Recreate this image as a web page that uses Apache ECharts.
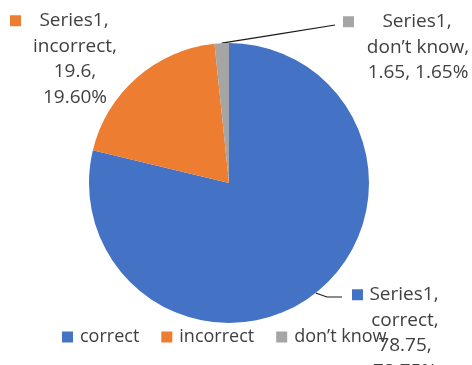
<!DOCTYPE html>
<html>
<head>
<meta charset="utf-8">
<script src="https://cdn.jsdelivr.net/npm/echarts@6/dist/echarts.min.js"></script>
<style>
    html, body { margin: 0; padding: 0; background: #fff; }
    #chart { width: 472px; height: 365px; }
</style>
</head>
<body>
<div id="chart"></div>
<script>
let seriesName = 'Series1';
let categories = ['correct', 'incorrect', 'don’t know'];
let values = [78.75, 19.6, 1.65];
let colors = ['#4472C4', '#ED7D31', '#A5A5A5'];

// label boxes: [left (marker), top, width], label text lines after the first
let labelBox = [[352, 282, 106], [10, 8, 130], [343, 9, 150]];
let labelLines = [
    ['correct,', '78.75,', '78.75%'],
    ['incorrect,', '19.6,', '19.60%'],
    ['don’t know,', '1.65, 1.65%']
];

let cx = 229, cy = 183, r = 140;
let total = values.reduce((a, b) => a + b, 0);

function edgePoint(i, extra) {
    let before = 0;
    for (let k = 0; k < i; k++) before += values[k];
    let a = (before + values[i] / 2) / total * Math.PI * 2;
    return [cx + (r + extra) * Math.sin(a), cy - (r + extra) * Math.cos(a)];
}

let data = values.map((v, i) => {
    let rest = labelLines[i].map(s => '{t|' + s + '}').join('\n');
    return {
        name: categories[i],
        value: v,
        itemStyle: { color: colors[i] },
        labelLine: { show: i !== 1 },
        label: {
            width: labelBox[i][2],
            formatter: '{m|}{t|' + seriesName + ',}{sp|}\n' + rest,
            rich: {
                m: { width: 11, height: 11, backgroundColor: colors[i], align: 'left' },
                sp: { width: 13, align: 'right' },
                t: { align: 'center', fontSize: 19, lineHeight: 25.5, color: '#404040', fontFamily: 'Open Sans' }
            }
        }
    };
});

let option = {
    animation: false,
    legend: {
        left: 57,
        top: 323,
        icon: 'rect',
        itemWidth: 11,
        itemHeight: 11,
        itemGap: 22,
        data: categories,
        textStyle: { fontSize: 18, color: '#404040', fontFamily: 'Open Sans', lineHeight: 18, padding: [0, 0, 0, 2] }
    },
    series: [
        {
            name: seriesName,
            type: 'pie',
            center: [cx, cy],
            radius: r,
            startAngle: 90,
            clockwise: true,
            avoidLabelOverlap: false,
            label: { show: true, position: 'outside' },
            labelLine: { show: true, lineStyle: { color: '#1a1a1a', width: 1.2 } },
            labelLayout: function (params) {
                let i = params.dataIndex;
                let b = labelBox[i];
                let start = edgePoint(i, 0);
                let end, mid;
                if (i === 0) {
                    end = [b[0] - 10, b[1] + 15];
                    mid = [end[0] - 15, end[1]];
                } else {
                    end = [b[0] - 8, b[1] + 16];
                    mid = [(start[0] + end[0]) / 2, (start[1] + end[1]) / 2];
                }
                return {
                    x: b[0],
                    y: b[1],
                    align: 'left',
                    verticalAlign: 'top',
                    labelLinePoints: [start, mid, end]
                };
            },
            data: data
        }
    ]
};

let myChart = echarts.init(document.getElementById('chart'));
myChart.setOption(option);
</script>
</body>
</html>
